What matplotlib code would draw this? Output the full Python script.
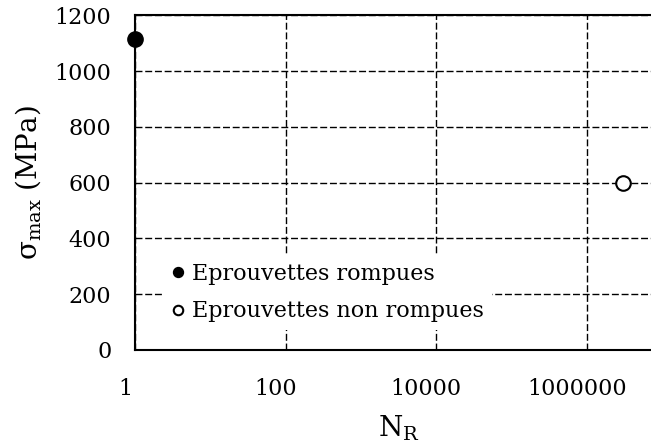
import matplotlib
matplotlib.use("Agg")
import matplotlib.pyplot as plt
import matplotlib.transforms as mtransforms

plt.rcParams["font.family"] = ["DejaVu Serif"]
plt.rcParams["mathtext.fontset"] = "custom"
plt.rcParams["mathtext.rm"] = "DejaVu Serif"
plt.rcParams["mathtext.it"] = "DejaVu Serif"

# data
n_rompues = [1]
s_rompues = [1115]
n_non_rompues = [3.0e6]
s_non_rompues = [600]
x_ticks = [1, 100, 10000, 1000000]
x_tick_labels = ["1", "100", "10000", "1000000"]
y_ticks = [0, 200, 400, 600, 800, 1000, 1200]

fig = plt.figure(figsize=(6.51, 4.46), dpi=100)
ax = fig.add_axes([0.2074, 0.2157, 0.8095, 0.7496])

ax.plot(n_rompues, s_rompues, "o", color="black", markersize=11,
        clip_on=False, zorder=5, label="Eprouvettes rompues")
ax.plot(n_non_rompues, s_non_rompues, "o", markerfacecolor="white",
        markeredgecolor="black", markeredgewidth=1.5, markersize=10.5,
        clip_on=False, zorder=5, label="Eprouvettes non rompues")

ax.set_xscale("log")
ax.set_xlim(1, 1e7)
ax.set_ylim(0, 1200)
ax.set_xticks(x_ticks)
ax.set_xticklabels(x_tick_labels)
ax.xaxis.set_minor_locator(matplotlib.ticker.NullLocator())
ax.set_yticks(y_ticks)

ax.grid(True, color="black", linestyle=(0, (5, 2)), linewidth=1)
ax.set_axisbelow(True)
for sp in ax.spines.values():
    sp.set_linewidth(1.5)

ax.tick_params(axis="both", length=0, labelsize=16)
ax.tick_params(axis="x", pad=20)
ax.tick_params(axis="y", pad=17)

# labels in the reference sit a bit left of their gridlines
shift = mtransforms.ScaledTranslation(-10 / 100, 0, fig.dpi_scale_trans)
for lab in ax.get_xticklabels():
    lab.set_transform(lab.get_transform() + shift)

ax.set_xlabel("N$_{\\mathrm{R}}$", fontsize=20, labelpad=10)
ax.set_ylabel("σ$_{\\mathrm{max}}$ (MPa)", fontsize=20, labelpad=8)

leg = ax.legend(loc="lower left", bbox_to_anchor=(0.054, 0.059), borderaxespad=0,
                fontsize=16, frameon=True, fancybox=False, framealpha=1,
                edgecolor="none", markerscale=0.65, handlelength=0.6,
                handletextpad=0.35, labelspacing=0.68, borderpad=0.35)

fig.savefig("out.png", dpi=100)
